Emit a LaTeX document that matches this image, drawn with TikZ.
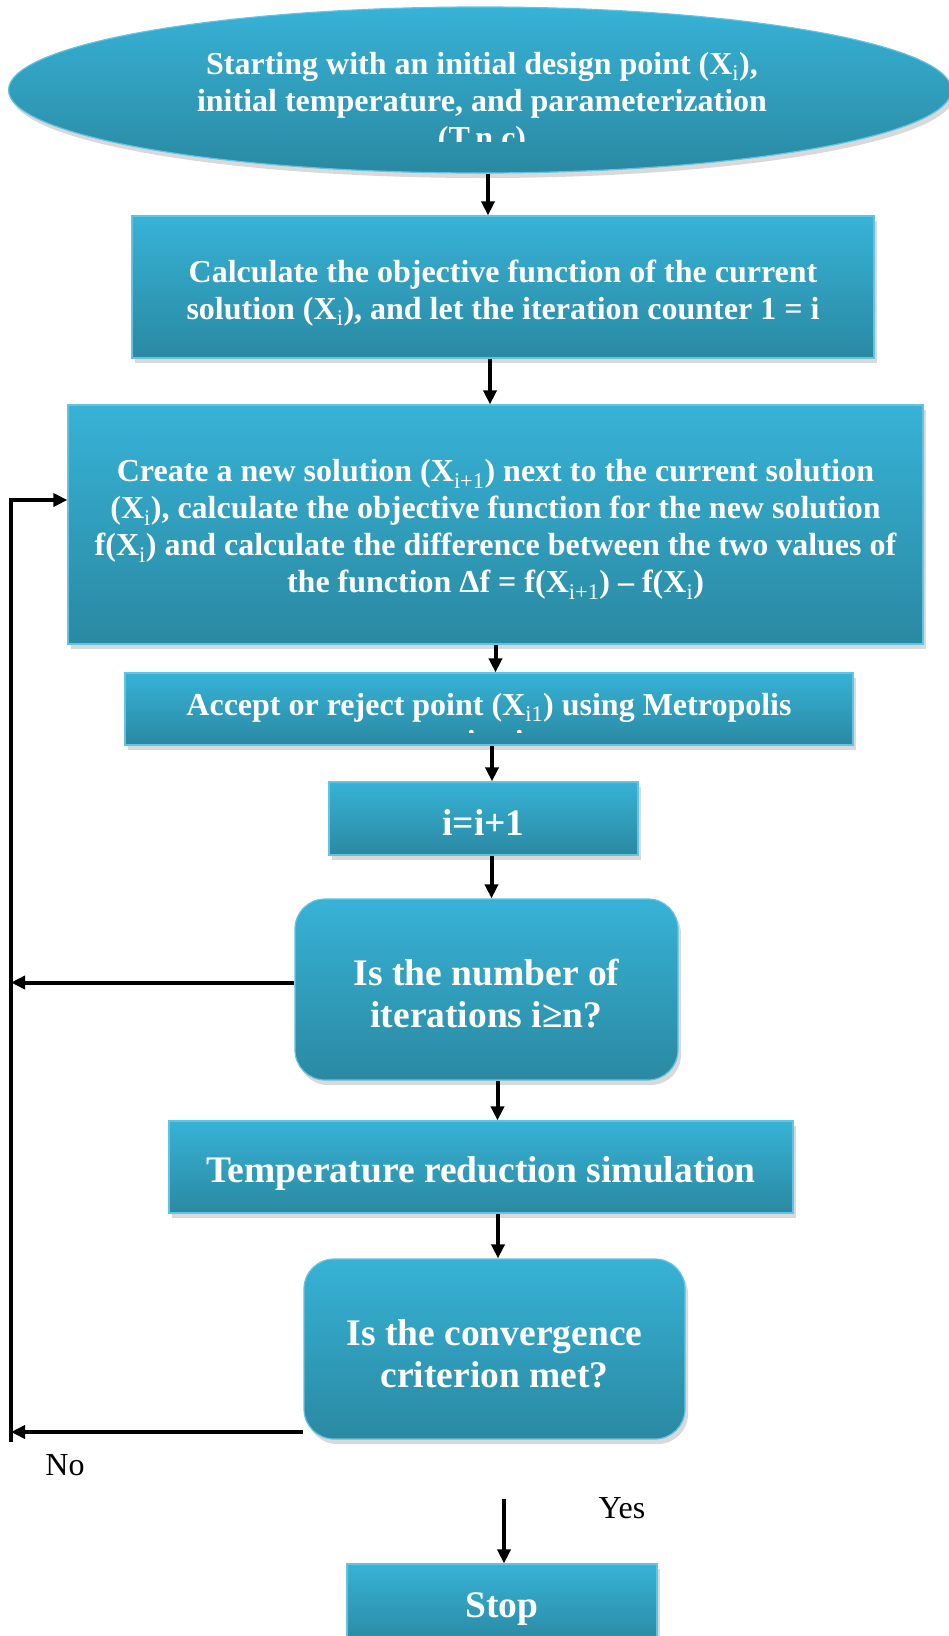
\documentclass[tikz,border=0pt]{standalone}
\usepackage{fontspec}
\setmainfont{Liberation Serif}
\usetikzlibrary{arrows.meta,positioning,shapes.geometric,shadows,calc}
\usepackage{xcolor}
\definecolor{boxtop}{HTML}{37B2D6}
\definecolor{boxbot}{HTML}{2A89A2}
\definecolor{boxedge}{HTML}{62C4E2}
\newcommand{\xsub}[1]{\textsubscript{\mdseries #1}}
\newcommand{\topgap}[1]{\rule{0pt}{#1pt}}
\tikzset{
  box/.style={draw=boxedge, line width=1.2pt, top color=boxtop, bottom color=boxbot, drop shadow={shadow xshift=3pt, shadow yshift=-5pt, opacity=0.3}, text=white, align=center, inner sep=0pt, font=\bfseries\fontsize{32}{37}\selectfont},
  roundbox/.style={box, rounded corners=30pt},
  startbox/.style={box, ellipse},
  bigtext/.style={font=\bfseries\fontsize{37.5}{42}\selectfont},
  boxtext/.style={text=white, align=center, inner sep=0pt, font=\bfseries\fontsize{32}{37}\selectfont},
  answer/.style={text=black, inner sep=0pt, font=\fontsize{32}{36}\selectfont},
  arrow/.style={-{Triangle[length=14pt,width=13pt]}, line width=4pt, draw=black}
}

\begin{document}
\begin{tikzpicture}[x=1pt, y=-1pt]
  \path[use as bounding box, clip] (0,0) rectangle (949,1636);
  \node[startbox, minimum width=943pt, minimum height=166pt] (start) at (480,90) {};
  \begin{scope}
    \clip (0,0) rectangle (949,141);
    \node[boxtext] (starttext) at (482,104) {Starting with an initial design point (X\xsub{i}),\\initial temperature, and parameterization\\(T,n,c)};
  \end{scope}
  \node[box, minimum width=742pt, minimum height=142pt] (calc) at (503,287) {\topgap{34}Calculate the objective function of the current\\solution (X\xsub{i}), and let the iteration counter 1 = i};
  \node[box, minimum width=855pt, minimum height=239pt] (create) at (495.5,524.5) {\topgap{32.5}Create a new solution (X\xsub{i+1}) next to the current solution\\(X\xsub{i}), calculate the objective function for the new solution\\f(X\xsub{i}) and calculate the difference between the two values of\\the function Δf = f(X\xsub{i+1}) – f(X\xsub{i})};
  \node[box, minimum width=728pt, minimum height=72pt] (accept) at (489,709) {};
  \begin{scope}
    \clip (accept.north west) rectangle ([yshift=13pt]accept.south east);
    \node[boxtext] (accepttext) at (489,723) {Accept or reject point (X\xsub{i1}) using Metropolis\\criteria};
  \end{scope}
  \node[box, bigtext, minimum width=309pt, minimum height=73pt] (incr) at (483.5,818.5) {\topgap{34}i=i+1};
  \node[roundbox, bigtext, minimum width=383pt, minimum height=181pt] (iter) at (486.5,989.5) {\topgap{34}Is the number of\\iterations i≥n?};
  \node[box, bigtext, minimum width=624pt, minimum height=92pt] (temp) at (481,1167) {\topgap{38.5}Temperature reduction simulation};
  \node[roundbox, bigtext, minimum width=381pt, minimum height=180pt] (conv) at (494.5,1349) {\topgap{35}Is the convergence\\criterion met?};
  \node[box, bigtext, minimum width=310pt, minimum height=80pt] (stop) at (502,1604) {\topgap{34.5}Stop};
  \coordinate (nobot) at (11,1442);
  \coordinate (notop) at (11,500);
  \coordinate (noend) at (11,1432);
  \coordinate (yesstart) at (504,1499);
  \node[answer] (nolabel) at (65,1465) {No};
  \node[answer] (yeslabel) at (622,1508) {Yes};
  \draw[arrow] ([xshift=8pt]start.south) -- ([xshift=8pt]start.south |- calc.north);
  \draw[arrow] ([xshift=-13pt]calc.south) -- ([xshift=-13pt]calc.south |- create.north);
  \draw[arrow] (create.south) -- (create.south |- accept.north);
  \draw[arrow] ([xshift=3pt]accept.south) -- ([xshift=3pt]accept.south |- incr.north);
  \draw[arrow] ([xshift=8pt]incr.south) -- ([xshift=8pt]incr.south |- iter.north);
  \draw[arrow] ([xshift=11pt]iter.south) -- ([xshift=11pt]iter.south |- temp.north);
  \draw[arrow] ([xshift=17pt]temp.south) -- ([xshift=17pt]temp.south |- conv.north);
  \draw[arrow] ([yshift=7pt]iter.west) -- ([yshift=7pt]iter.west -| notop);
  \draw[arrow] (conv.west |- noend) -- (noend);
  \draw[arrow] (nobot) -- (notop) -- (create.west |- notop);
  \draw[arrow] (yesstart) -- (yesstart |- stop.north);
\end{tikzpicture}
\end{document}
